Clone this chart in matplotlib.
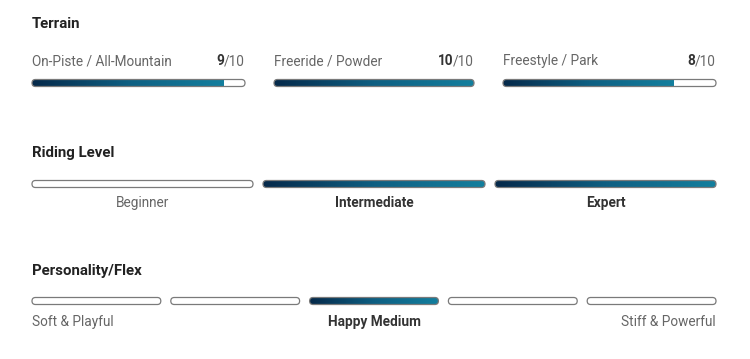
import matplotlib
matplotlib.use("Agg")
import matplotlib.pyplot as plt
import numpy as np
from matplotlib.patches import FancyBboxPatch
from matplotlib.colors import LinearSegmentedColormap

# ---- data ----
section_titles = ["Terrain", "Riding Level", "Personality/Flex"]
terrain_names = ["On-Piste / All-Mountain", "Freeride / Powder", "Freestyle / Park"]
terrain_scores = [9, 10, 8]
terrain_max = 10
riding_levels = ["Beginner", "Intermediate", "Expert"]
riding_selected = [False, True, True]
flex_labels = ["Soft & Playful", "Happy Medium", "Stiff & Powerful"]
flex_segments = 5
flex_selected = 2

plt.rcParams['font.family'] = ['Roboto', 'DejaVu Sans']
fig = plt.figure(figsize=(7.5, 3.59), dpi=100)
ax = fig.add_axes([0, 0, 1, 1])
ax.set_xlim(0, 750)
ax.set_ylim(359, 0)
ax.axis('off')

cmap = LinearSegmentedColormap.from_list("g", ["#05294a", "#0e5f82", "#137f9e"])
grad = np.linspace(0, 1, 256).reshape(1, -1)
H = 7
TITLE_C = "#222222"
LAB_C = "#666666"
BOLD_C = "#333333"
FS = 9.8
TFS = 10.8


def bar(x0, x1, yc, frac):
    box = FancyBboxPatch((x0, yc - H / 2), x1 - x0, H,
                         boxstyle="round,pad=0,rounding_size=3.5",
                         fc="white", ec="none", zorder=1)
    ax.add_patch(box)
    if frac > 0:
        xf = x0 + (x1 - x0) * frac
        im = ax.imshow(grad, cmap=cmap, extent=(x0, xf, yc + H / 2, yc - H / 2),
                       aspect='auto', zorder=2, interpolation='bilinear')
        im.set_clip_path(box)
    outline = FancyBboxPatch((x0, yc - H / 2), x1 - x0, H,
                             boxstyle="round,pad=0,rounding_size=3.5",
                             fc="none", ec="#7a7a7a", lw=0.9, zorder=3)
    ax.add_patch(outline)


fig.canvas.draw()
renderer = fig.canvas.get_renderer()

# Terrain
ax.text(32, 24, section_titles[0], fontsize=TFS, fontweight='bold', color=TITLE_C, va='center')
t_x = [(32, 245), (274, 474), (503, 716)]
for (x0, x1), name, sc in zip(t_x, terrain_names, terrain_scores):
    ax.text(x0, 61, name, fontsize=FS, color=LAB_C, va='center')
    den = ax.text(x1, 61, f"/{terrain_max}", fontsize=FS, color=LAB_C, va='center', ha='right')
    wpx = den.get_window_extent(renderer).width
    ax.text(x1 - wpx, 61, str(sc), fontsize=FS, color=BOLD_C, va='center', ha='right',
            fontweight='bold')
    bar(x0, x1, 83, sc / terrain_max)

# Riding level
ax.text(32, 153, section_titles[1], fontsize=TFS, fontweight='bold', color=TITLE_C, va='center')
r_x = [(32, 253), (263, 485), (495, 716)]
for (x0, x1), name, sel in zip(r_x, riding_levels, riding_selected):
    bar(x0, x1, 184, 1.0 if sel else 0.0)
    ax.text((x0 + x1) / 2, 203, name, fontsize=FS, ha='center', va='center',
            color=BOLD_C if sel else LAB_C, fontweight='bold' if sel else 'normal')

# Personality / Flex
ax.text(32, 271, section_titles[2], fontsize=TFS, fontweight='bold', color=TITLE_C, va='center')
left, right, gap = 32, 716, 10
w = (right - left - gap * (flex_segments - 1)) / flex_segments
for i in range(flex_segments):
    x0 = left + i * (w + gap)
    bar(x0, x0 + w, 301, 1.0 if i == flex_selected else 0.0)
ax.text(left, 322, flex_labels[0], fontsize=FS, color=LAB_C, va='center', ha='left')
ax.text((left + right) / 2, 322, flex_labels[1], fontsize=FS, color=BOLD_C, va='center',
        ha='center', fontweight='bold')
ax.text(right, 322, flex_labels[2], fontsize=FS, color=LAB_C, va='center', ha='right')

fig.savefig("out.png", dpi=100, facecolor='white')
